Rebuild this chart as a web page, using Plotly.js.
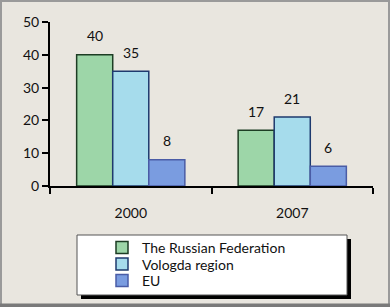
<!DOCTYPE html>
<html>
<head>
<meta charset="utf-8">
<script src="https://cdn.plot.ly/plotly-3.0.1.min.js"></script>
<style>
html,body{margin:0;padding:0;background:#e9e6df;}
#chart{width:390px;height:307px;}
</style>
</head>
<body>
<div id="chart"></div>
<script>
const categories = ["2000", "2007"];
const seriesNames = ["The Russian Federation", "Vologda region", "EU"];
const russia = [40, 17];
const vologda = [35, 21];
const eu = [8, 6];
const yTicks = [0, 10, 20, 30, 40, 50];

const seriesValues = [russia, vologda, eu];
const fills = ["#9dd6a8", "#a6dcec", "#7a9ce0"];
const edges = ["#1d3d24", "#1e3a6e", "#4a5ca6"];
const legendIds = ["legend", "legend2", "legend3"];

const traces = seriesValues.map((vals, i) => ({
  type: "bar",
  name: seriesNames[i],
  x: categories,
  y: vals,
  legend: legendIds[i],
  marker: {color: fills[i], line: {color: edges[i], width: 1.5}},
  hoverinfo: "none"
}));

// pixel geometry helpers (plot area 50..373 x, 22..186 y)
const W = 390, H = 307, L = 50, R = 17, T = 22, B = 121;
const pw = W - L - R, ph = H - T - B;
const px = v => (v - L) / pw;
const py = v => (H - B - v) / ph;

const barPx = 36;
const annotations = [];
seriesValues.forEach((vals, i) => {
  vals.forEach((v, j) => {
    annotations.push({
      x: j, y: v, xref: "x", yref: "y",
      text: String(v), showarrow: false,
      xshift: (i - 1) * barPx, yshift: 19,
      font: {family: "Lato, 'Open Sans', sans-serif", size: 14, color: "#111"}
    });
  });
});

const legendRowTop = [232, 248.5, 265];
const legendBase = {
  xanchor: "left", yanchor: "top",
  bgcolor: "rgba(0,0,0,0)", borderwidth: 0,
  font: {size: 14, color: "#111"}
};

const layout = {
  width: W, height: H,
  margin: {l: L, r: R, t: T, b: B, autoexpand: false},
  paper_bgcolor: "#e9e6df",
  plot_bgcolor: "rgba(0,0,0,0)",
  barmode: "group",
  bargap: 0.33,
  bargroupgap: 0,
  showlegend: true,
  font: {family: "Lato, 'Open Sans', sans-serif", size: 14, color: "#111"},
  xaxis: {
    type: "category",
    range: [-0.5, 1.5], autorange: false,
    showline: true, linecolor: "#000", linewidth: 2,
    ticks: "outside", tickson: "boundaries", ticklen: 6, tickwidth: 2, tickcolor: "#000",
    ticklabelstandoff: 13,
    showgrid: false, zeroline: false,
    tickfont: {size: 14}
  },
  yaxis: {
    range: [0, 50], autorange: false,
    tickvals: yTicks,
    showline: true, linecolor: "#000", linewidth: 2,
    ticks: "outside", ticklen: 6, tickwidth: 2, tickcolor: "#000",
    showgrid: false, zeroline: false,
    tickfont: {size: 14}
  },
  annotations: annotations,
  shapes: [
    // legend shadow and box
    {type: "rect", xref: "paper", yref: "paper", layer: "below",
     x0: px(81), x1: px(351), y0: py(299), y1: py(239),
     fillcolor: "#000", line: {width: 0}},
    {type: "rect", xref: "paper", yref: "paper", layer: "below",
     x0: px(77), x1: px(347), y0: py(295), y1: py(235),
     fillcolor: "#fff", line: {color: "#555", width: 1}},
    // outer frame
    {type: "rect", xref: "paper", yref: "paper", layer: "above",
     x0: px(1), x1: px(389), y0: py(305), y1: py(1),
     fillcolor: "rgba(0,0,0,0)", line: {color: "#9a9a9a", width: 2}},
    {type: "rect", xref: "paper", yref: "paper", layer: "above",
     x0: px(0), x1: px(390), y0: py(307), y1: py(303.5),
     fillcolor: "#7a7a7a", line: {width: 0}}
  ]
};
legendIds.forEach((id, i) => {
  layout[id] = Object.assign({}, legendBase, {x: px(102), y: py(legendRowTop[i])});
});

Plotly.newPlot("chart", traces, layout, {displayModeBar: false, staticPlot: true});
</script>
</body>
</html>
